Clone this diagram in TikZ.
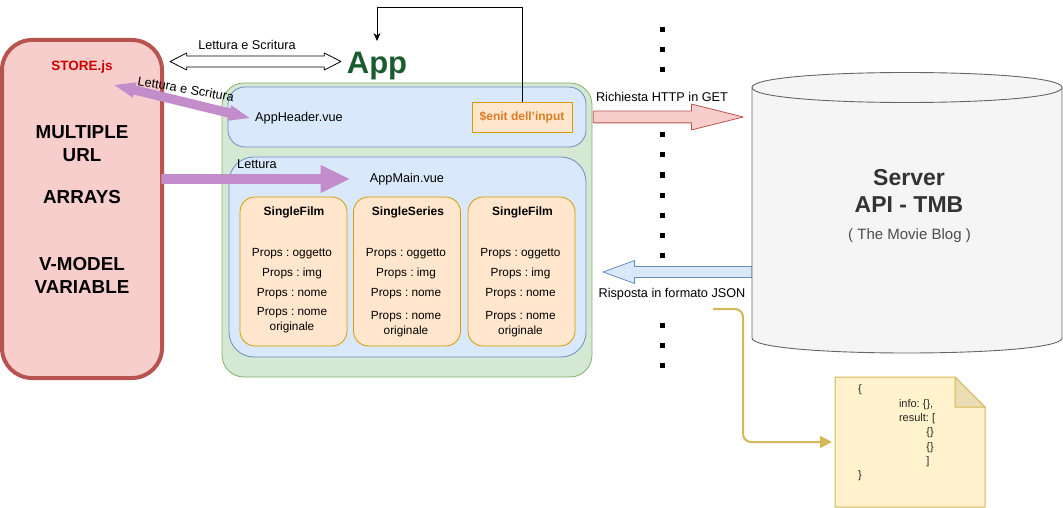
\documentclass[tikz,border=0pt]{standalone}
\usepackage{fontspec}
\setmainfont{Liberation Sans}
\usetikzlibrary{arrows.meta,calc,shapes.arrows}
\definecolor{ColStoreFill}{HTML}{F8CECC}
\definecolor{ColStoreLine}{HTML}{B85450}
\definecolor{ColAppFill}{HTML}{D5E8D4}
\definecolor{ColAppLine}{HTML}{82B366}
\definecolor{ColVueFill}{HTML}{DAE8FC}
\definecolor{ColVueLine}{HTML}{6C8EBF}
\definecolor{ColCardFill}{HTML}{FFE6CC}
\definecolor{ColCardLine}{HTML}{D79B00}
\definecolor{ColNoteFill}{HTML}{FFF2CC}
\definecolor{ColNoteLine}{HTML}{D6B656}
\definecolor{ColFold}{HTML}{EBDDB3}
\definecolor{ColPurple}{HTML}{C38CCB}
\definecolor{ColServerFill}{HTML}{F5F5F5}
\definecolor{ColServerLine}{HTML}{666666}
\definecolor{ColAppText}{HTML}{1A5C30}
\definecolor{ColInput}{HTML}{DB7C26}
\newcommand{\fs}[1]{\fontsize{#1}{#1}\selectfont\frenchspacing}
\begin{document}
\begin{tikzpicture}[
  x=1pt,
  y=-1pt,
  >={Stealth[length=8pt,width=7pt]},
  line join=round,
  every node/.style={font=\fs{12.7}, inner sep=0pt, outer sep=0pt, align=center},
  vuebox/.style={rectangle, draw=ColVueLine, fill=ColVueFill, line width=0.8pt},
  card/.style={rectangle, draw=ColCardLine, fill=ColCardFill, line width=0.8pt,
    rounded corners=15pt, minimum width=107pt, minimum height=149pt},
  cardtitle/.style={font=\fs{12}\bfseries},
  cardprop/.style={font=\fs{11.8}},
  bigword/.style={font=\fs{18.8}\bfseries},
  jsontext/.style={font=\fs{11}, text=black!85}
]
  \useasboundingbox (0,0) rectangle (1063,508);

  % Store on the left
  \node[rectangle, draw=ColStoreLine, fill=ColStoreFill, line width=4pt, rounded corners=30pt,
    minimum width=160pt, minimum height=338pt] (store) at (82,209) {};
  \node[font=\fs{13.5}\bfseries, text=red!80!black] (storejs) at (82,67) {STORE.js};
  \node[bigword] (multiple) at (82,132.5) {MULTIPLE};
  \node[bigword] (url)      at (82,155.5) {URL};
  \node[bigword] (arrays)   at (82,197.5) {ARRAYS};
  \node[bigword] (vmodel)   at (82,264.5) {V-MODEL};
  \node[bigword] (variable) at (82,287.5) {VARIABLE};

  % App container
  \node[rectangle, draw=ColAppLine, fill=ColAppFill, line width=0.8pt, rounded corners=22pt,
    minimum width=370pt, minimum height=294pt] (app) at (407,230) {};
  \node[font=\fs{31}\bfseries, text=ColAppText] (apptitle) at (377,66) {App};
  \node[vuebox, rounded corners=17pt, minimum width=358pt, minimum height=60pt] (header) at (407,117) {};
  \node[vuebox, rounded corners=25pt, minimum width=357pt, minimum height=200pt] (main) at (407.5,257) {};
  \node (headertext) at (299,118) {AppHeader.vue};
  \node (maintext)   at (407,179) {AppMain.vue};
  \node (lettura)    at (257,164) {Lettura};
  \node[rectangle, draw=ColCardLine, fill=ColCardFill, line width=0.8pt, minimum width=100pt,
    minimum height=30pt, font=\fs{12}\bfseries, text=ColInput] (senit) at (522,117.5) {\$enit dell'input};

  % Cards
  \node[card] (film) at (293.5,271.5) {};
  \node[card] (series) at (407,271.5) {};
  \node[card] (filmtwo) at (521.5,271.5) {};
  \foreach \nm/\cx/\ttl in {film/294/SingleFilm, series/408/SingleSeries, filmtwo/522.5/SingleFilm}{
    \node[cardtitle] (\nm title) at (\cx,212.5) {\ttl};
    \node[cardprop] (\nm one) at (\cx-2,254) {Props : oggetto};
    \node[cardprop] (\nm two) at (\cx-2,273.5) {Props : img};
    \node[cardprop] (\nm three) at (\cx-2,293.5) {Props : nome};
  }
  \node[cardprop] (filmfour) at (292,320) {Props : nome\\[3pt]originale};
  \node[cardprop] (seriesfour) at (406,324) {Props : nome\\[3pt]originale};
  \node[cardprop] (filmtwofour) at (520.5,324) {Props : nome\\[3pt]originale};

  % Block arrows
  \node[double arrow, draw=black, fill=white, line width=0.8pt, inner sep=5pt, double arrow head extend=3pt,
    double arrow tip angle=54, minimum height=171pt, minimum width=17pt] (rw) at (255.5,61.5) {};
  \node (rwtext) at (247,45) {Lettura e Scritura};
  \node[double arrow, fill=ColPurple, inner sep=4pt, double arrow head extend=3pt,
    double arrow tip angle=42, minimum height=139pt, minimum width=16pt, rotate=-13.7] (headerrw) at (182,101.5) {};
  \node[rotate=-10] (headerrwtext) at (186,89) {Lettura e Scritura};
  \node[single arrow, fill=ColPurple, inner sep=4.5pt, single arrow head extend=9pt,
    single arrow tip angle=52, minimum height=188pt, minimum width=28pt] (mainread) at (250.5,179) {};
  \node[single arrow, draw=ColStoreLine, fill=ColStoreFill, line width=0.8pt, inner sep=5.5pt,
    single arrow head extend=7pt, single arrow tip angle=28, minimum height=150pt, minimum width=25pt] (request) at (656.5,117) {};
  \node (requesttext) at (662,97) {Richiesta HTTP in GET};
  \node[single arrow, shape border rotate=180, draw=ColVueLine, fill=ColVueFill, line width=0.8pt, inner sep=5pt,
    single arrow head extend=6pt, single arrow tip angle=40, minimum height=149pt, minimum width=23pt] (reply) at (685,272) {};
  \node (replytext) at (672,294.5) {Risposta in formato JSON};

  % Server
  \coordinate (topleft) at (752,87.5);
  \coordinate (topright) at (1062,87.5);
  \coordinate (botleft) at (752,338);
  \coordinate (botright) at (1062,338);
  \draw[ColServerLine, fill=ColServerFill, line width=0.9pt]
    (topleft) .. controls (752,67.5) and (1062,67.5) .. (topright) -- (botright)
    .. controls (1062,358) and (752,358) .. (botleft) -- cycle;
  \draw[ColServerLine, line width=0.9pt] (topleft) .. controls (752,107.5) and (1062,107.5) .. (topright);
  \node[font=\fs{23}\bfseries, text=black!80] (servertext) at (909,191) {Server\\[4pt]API - TMB};
  \node[font=\fs{15}, text=black!70] (movieblog) at (909.5,235.5) {( The Movie Blog )};

  % Separator dots
  \foreach \yy in {30,50,70,135,155,175,195,215,235,255,325,345,365}{
    \fill (662,\yy) ++(-2.5,-2.5) rectangle ++(5,5);
  }

  % Note with json
  \draw[ColNoteLine, fill=ColNoteFill, line width=1pt] (835,377) -- (955,377) -- (985,407) -- (985,507) -- (835,507) -- cycle;
  \draw[ColNoteLine, fill=ColFold, line width=1pt] (955,377) -- (985,407) -- (955,407) -- cycle;
  \node[jsontext] (jsonopen) at (860,390) {\{};
  \node[jsontext, anchor=west] (jsoninfo) at (899,405) {info: \{\},};
  \node[jsontext, anchor=west] (jsonresult) at (899,419) {result: [};
  \node[jsontext] (jsonone) at (930,433) {\{\}};
  \node[jsontext] (jsontwo) at (930,448) {\{\}};
  \node[jsontext] (jsonclose) at (928,462) {]};
  \node[jsontext] (jsonend) at (860,476) {\}};

  % Connectors
  \coordinate (inputturn) at (377,7);
  \coordinate (appin) at (377,41);
  \draw[->, line width=0.9pt] (senit.north) |- (inputturn) -- (appin);
  \coordinate (replyout) at (713,309);
  \coordinate (replybend) at (743,442);
  \coordinate (notein) at (832,442);
  \draw[-{Triangle[length=12pt,width=12pt]}, ColNoteLine, line width=2pt, rounded corners=8pt]
    (replyout) -| (replybend) -- (notein);
\end{tikzpicture}
\end{document}
